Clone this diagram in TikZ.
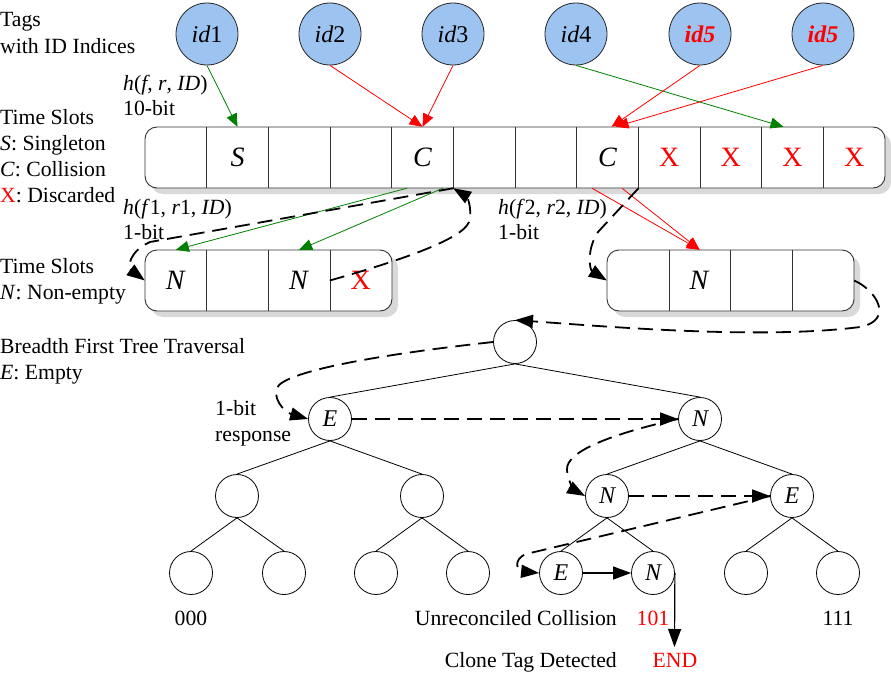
\documentclass[tikz,border=0pt]{standalone}
\usepackage{fontspec}
\setmainfont{Liberation Serif}
\usetikzlibrary{arrows.meta}
\definecolor{tagblue}{RGB}{157,195,240}
\definecolor{dgreen}{RGB}{0,128,0}
\begin{document}
\begin{tikzpicture}[x=1pt,y=-1pt,
  lbl/.style={inner sep=0pt, font=\fontsize{21.7}{26}\selectfont},
  tag/.style={circle, draw=black!85, line width=0.8pt, fill=tagblue, minimum size=62pt, inner sep=0pt, font=\fontsize{24}{28}\selectfont},
  cell/.style={minimum width=61.67pt, minimum height=61pt, inner sep=0pt, font=\fontsize{28}{32}\selectfont},
  rcell/.style={cell, minimum width=61.75pt},
  tnode/.style={circle, draw, line width=0.8pt, minimum size=43pt, inner sep=0pt, font=\fontsize{24}{28}\selectfont\itshape},
  frame/.style={draw=black!80, line width=0.9pt, fill=white, rounded corners=12pt},
  shadow/.style={fill=black!15, rounded corners=12pt},
  divider/.style={draw=black!80, line width=0.8pt},
  garrow/.style={dgreen, line width=0.8pt, -{Triangle[length=13pt,width=11pt]}},
  rarrow/.style={red, line width=0.8pt, -{Triangle[length=13pt,width=11pt]}},
  darrow/.style={line width=1.8pt, dash pattern=on 15pt off 8pt, -{Triangle[length=18pt,width=13pt]}},
  sarrow/.style={line width=1.2pt, -{Triangle[length=18pt,width=13pt]}},
  edge/.style={line width=0.8pt}]
\useasboundingbox (0,0) rectangle (891,677);

% ---- left labels
\node[lbl, anchor=base west] (lt1) at (0,27) {Tags};
\node[lbl, anchor=base west] (lt2) at (0,53) {with ID Indices};
\node[lbl, anchor=base west] (lt3) at (0,124) {Time Slots};
\node[lbl, anchor=base west] (lt4) at (0,150) {\textit{S}: Singleton};
\node[lbl, anchor=base west] (lt5) at (0,176) {\textit{C}: Collision};
\node[lbl, anchor=base west] (lt6) at (0,202) {\textcolor{red}{X}: Discarded};
\node[lbl, anchor=base west] (lt7) at (0,273) {Time Slots};
\node[lbl, anchor=base west] (lt8) at (0,299) {\textit{N}: Non-empty};
\node[lbl, anchor=base west] (lt9) at (0,353) {Breadth First Tree Traversal};
\node[lbl, anchor=base west] (lt10) at (0,379) {\textit{E}: Empty};

\node[lbl, anchor=base west] (h0) at (123,90) {\textit{h}(\textit{f}, \textit{r}, \textit{ID})};
\node[lbl, anchor=base west] (h0b) at (123,115) {10-bit};
\node[lbl, anchor=base west] (h1) at (123,214) {\textit{h}(\textit{f}1, \textit{r}1, \textit{ID})};
\node[lbl, anchor=base west] (h1b) at (123,239) {1-bit};
\node[lbl, anchor=base west] (h2) at (498,214) {\textit{h}(\textit{f}2, \textit{r}2, \textit{ID})};
\node[lbl, anchor=base west] (h2b) at (498,239) {1-bit};

% ---- tags
\node[tag] (id1) at (207,34) {\textit{id}1};
\node[tag] (id2) at (330,34) {\textit{id}2};
\node[tag] (id3) at (453,34) {\textit{id}3};
\node[tag] (id4) at (576,34) {\textit{id}4};
\node[tag] (id5) at (700,34) {\textcolor{red}{\bfseries\itshape id5}};
\node[tag] (id6) at (823,34) {\textcolor{red}{\bfseries\itshape id5}};

% ---- top array
\fill[shadow] (151,133) rectangle (891,194);
\draw[frame] (145,127) rectangle (885,188);
\foreach \i/\c in {1/{},2/{\textit{S}},3/{},4/{},5/{\textit{C}},6/{},7/{},8/{\textit{C}},9/{\textcolor{red}{X}},10/{\textcolor{red}{X}},11/{\textcolor{red}{X}},12/{\textcolor{red}{X}}}
  \node[cell] (t\i) at ({145+61.667*(\i-0.5)},157.5) {\c};
\foreach \i in {1,...,11}
  \draw[divider] (t\i.north east) -- (t\i.south east);

% ---- second row arrays
\fill[shadow] (151,256) rectangle (398,317);
\draw[frame] (145,250) rectangle (392,311);
\foreach \i/\c in {1/{\textit{N}},2/{},3/{\textit{N}},4/{\textcolor{red}{X}}}
  \node[cell] (l\i) at ({145+61.667*(\i-0.5)},280.5) {\c};
\foreach \i in {1,...,3}
  \draw[divider] (l\i.north east) -- (l\i.south east);

\fill[shadow] (613,256) rectangle (860,317);
\draw[frame] (607,250) rectangle (854,311);
\foreach \i/\c in {1/{},2/{\textit{N}},3/{},4/{}}
  \node[rcell] (r\i) at ({607+61.75*(\i-0.5)},280.5) {\c};
\foreach \i in {1,...,3}
  \draw[divider] (r\i.north east) -- (r\i.south east);

% ---- tag arrows
\draw[garrow] (id1.south) -- (t2.north);
\draw[rarrow] (id2.south) -- (t5.north);
\draw[rarrow] (id3.south) -- (t5.north);
\draw[garrow] (id4.south) -- ([xshift=-9pt]t11.north);
\draw[rarrow] (id5.south) -- ([xshift=4pt]t8.north);
\draw[rarrow] (id6.south) -- ([xshift=8pt]t8.north);

% ---- slot arrows
\draw[garrow] ([xshift=-15.5pt]t5.south) -- (l1.north);
\draw[garrow] ([xshift=20.5pt]t5.south) -- (l3.north);
\draw[rarrow] ([xshift=-15.5pt]t8.south) -- (r2.north);
\draw[rarrow] ([xshift=14.5pt]t8.south) -- (r2.north);

% ---- tree
\node[tnode] (root) at (515,342) {};
\node[tnode] (e1) at (330,419) {E};
\node[tnode] (n1) at (700,419) {N};
\node[tnode] (a2) at (237,496) {};
\node[tnode] (b2) at (422,496) {};
\node[tnode] (n2) at (607,496) {N};
\node[tnode] (e2) at (792,496) {E};
\node[tnode] (c1) at (191,573) {};
\node[tnode] (c2) at (284,573) {};
\node[tnode] (c3) at (376,573) {};
\node[tnode] (c4) at (468,573) {};
\node[tnode] (e3) at (561,573) {E};
\node[tnode] (n3) at (653,573) {N};
\node[tnode] (c7) at (746,573) {};
\node[tnode] (c8) at (838,573) {};

\foreach \p/\q in {root/e1,root/n1,e1/a2,e1/b2,n1/n2,n1/e2,a2/c1,a2/c2,b2/c3,b2/c4,n2/e3,n2/n3,e2/c7,e2/c8}
  \draw[edge] (\p.south) -- (\q.north);

\node[lbl, anchor=base west] (rb1) at (215,415) {1-bit};
\node[lbl, anchor=base west] (rb2) at (215,441) {response};
\node[lbl, anchor=base] (b000) at (191,625) {000};
\node[lbl, anchor=base east] (unr) at (617,625) {Unreconciled Collision};
\node[lbl, anchor=base, text=red] (b101) at (653,625) {101};
\node[lbl, anchor=base] (b111) at (838,625) {111};
\node[lbl, anchor=base east] (clone) at (617,667) {Clone Tag Detected};
\node[lbl, anchor=base, text=red] (endl) at (675,667) {END};
\coordinate (endc) at (674.5,647);

% ---- dashed traversal
\draw[darrow] (t5.south east) -- (150,242) .. controls (128,252) and (128,268) .. (l1.west);
\draw[darrow] (l4.west) .. controls (395,262) and (462,240) .. (469,222) .. controls (473,208) and (466,196) .. (t6.south west);
\draw[darrow] (t8.south east) -- (598,232) .. controls (586,250) and (590,270) .. (r1.west);
\draw[darrow] (r4.east) .. controls (876,290) and (895,320) .. (860,327) .. controls (760,340) and (600,326) .. (root.north);
\draw[darrow] (root.west) .. controls (420,350) and (300,366) .. (279,385) .. controls (270,396) and (284,412) .. (e1.west);
\draw[darrow] (e1.east) -- (n1.west);
\draw[darrow] (n1.west) .. controls (620,432) and (565,450) .. (567,470) .. controls (568,483) and (576,491) .. (n2.west);
\draw[darrow] (n2.east) -- (e2.west);
\draw[darrow] (e2.west) -- (526,554) .. controls (512,560) and (518,571) .. (e3.west);

% ---- solid arrows
\draw[sarrow] (e3.east) -- (n3.west);
\draw[sarrow] (n3.east) -- (endc);
\end{tikzpicture}
\end{document}
